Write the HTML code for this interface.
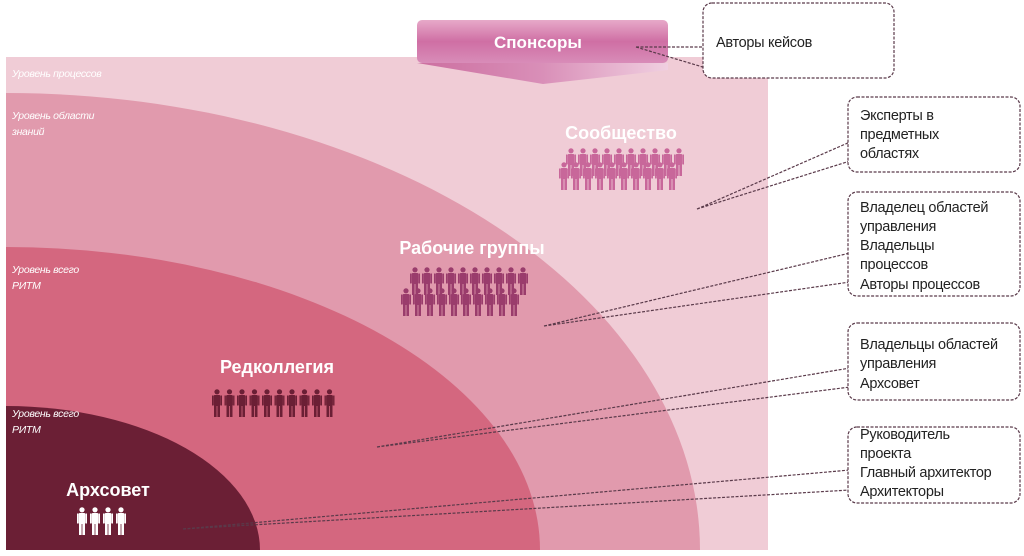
<!DOCTYPE html>
<html><head><meta charset="utf-8"><style>
html,body{margin:0;padding:0;background:#fff;}
svg{display:block}
text{font-family:"Liberation Sans","DejaVu Sans",sans-serif}
</style></head><body>
<svg width="1024" height="556" viewBox="0 0 1024 556" xmlns="http://www.w3.org/2000/svg">
<defs>
<symbol id="p" viewBox="0 0 10 28" overflow="visible">
<circle cx="5" cy="2.8" r="2.6"/>
<rect x="1.6" y="6" width="6.8" height="11" rx="1.2"/>
<rect x="0" y="6.5" width="1.4" height="10"/>
<rect x="8.6" y="6.5" width="1.4" height="10"/>
<rect x="2" y="16" width="2.6" height="12"/>
<rect x="5.4" y="16" width="2.6" height="12"/>
</symbol>
<linearGradient id="sg" x1="0" y1="0" x2="0" y2="1">
<stop offset="0" stop-color="#e7a9c9"/><stop offset="0.5" stop-color="#cf6fa4"/><stop offset="1" stop-color="#d88cb8"/>
</linearGradient>
<linearGradient id="ag" x1="0" y1="0" x2="1" y2="0">
<stop offset="0" stop-color="#cc6fa0"/><stop offset="0.5" stop-color="#d98fb8"/><stop offset="1" stop-color="#f0cfe0"/>
</linearGradient>
</defs>
<rect x="6" y="57" width="762" height="493" fill="#f0ccd6"/>
<path d="M6 93 A694 457 0 0 1 700 550 L6 550 Z" fill="#e19aad"/>
<path d="M6 247 A534 303 0 0 1 540 550 L6 550 Z" fill="#d4677f"/>
<path d="M6 406 A254 144 0 0 1 260 550 L6 550 Z" fill="#6b1f35"/>
<polygon points="417,63 668,63 668,70 543,84 417,63" fill="url(#ag)"/>
<rect x="417" y="20" width="251" height="43" rx="5" fill="url(#sg)"/>
<text x="538" y="48" font-size="17" font-weight="bold" fill="#fff" text-anchor="middle">Спонсоры</text>
<g font-size="10.5" font-style="italic" fill="#fff" letter-spacing="-0.3">
<text x="12" y="77">Уровень процессов</text>
<text x="12" y="119">Уровень области</text><text x="12" y="135">знаний</text>
<text x="12" y="273">Уровень всего</text><text x="12" y="289">РИТМ</text>
<text x="12" y="417">Уровень всего</text><text x="12" y="433">РИТМ</text>
</g>
<g font-size="18" font-weight="bold" fill="#fff" text-anchor="middle">
<text x="621" y="139">Сообщество</text>
<text x="472" y="254">Рабочие группы</text>
<text x="277" y="373">Редколлегия</text>
<text x="108" y="496">Архсовет</text>
</g>
<g fill="#c8679a">
<use href="#p" x="566" y="148" width="10" height="28"/><use href="#p" x="578" y="148" width="10" height="28"/><use href="#p" x="590" y="148" width="10" height="28"/><use href="#p" x="602" y="148" width="10" height="28"/><use href="#p" x="614" y="148" width="10" height="28"/><use href="#p" x="626" y="148" width="10" height="28"/><use href="#p" x="638" y="148" width="10" height="28"/><use href="#p" x="650" y="148" width="10" height="28"/><use href="#p" x="662" y="148" width="10" height="28"/><use href="#p" x="674" y="148" width="10" height="28"/>
<use href="#p" x="559" y="162" width="10" height="28"/><use href="#p" x="571" y="162" width="10" height="28"/><use href="#p" x="583" y="162" width="10" height="28"/><use href="#p" x="595" y="162" width="10" height="28"/><use href="#p" x="607" y="162" width="10" height="28"/><use href="#p" x="619" y="162" width="10" height="28"/><use href="#p" x="631" y="162" width="10" height="28"/><use href="#p" x="643" y="162" width="10" height="28"/><use href="#p" x="655" y="162" width="10" height="28"/><use href="#p" x="667" y="162" width="10" height="28"/>
</g>
<g fill="#9a3c6c">
<use href="#p" x="410" y="267" width="10" height="28"/><use href="#p" x="422" y="267" width="10" height="28"/><use href="#p" x="434" y="267" width="10" height="28"/><use href="#p" x="446" y="267" width="10" height="28"/><use href="#p" x="458" y="267" width="10" height="28"/><use href="#p" x="470" y="267" width="10" height="28"/><use href="#p" x="482" y="267" width="10" height="28"/><use href="#p" x="494" y="267" width="10" height="28"/><use href="#p" x="506" y="267" width="10" height="28"/><use href="#p" x="518" y="267" width="10" height="28"/>
<use href="#p" x="401" y="288" width="10" height="28"/><use href="#p" x="413" y="288" width="10" height="28"/><use href="#p" x="425" y="288" width="10" height="28"/><use href="#p" x="437" y="288" width="10" height="28"/><use href="#p" x="449" y="288" width="10" height="28"/><use href="#p" x="461" y="288" width="10" height="28"/><use href="#p" x="473" y="288" width="10" height="28"/><use href="#p" x="485" y="288" width="10" height="28"/><use href="#p" x="497" y="288" width="10" height="28"/><use href="#p" x="509" y="288" width="10" height="28"/>
</g>
<g fill="#6b1f35">
<use href="#p" x="212" y="389" width="10" height="28"/><use href="#p" x="224.5" y="389" width="10" height="28"/><use href="#p" x="237" y="389" width="10" height="28"/><use href="#p" x="249.5" y="389" width="10" height="28"/><use href="#p" x="262" y="389" width="10" height="28"/><use href="#p" x="274.5" y="389" width="10" height="28"/><use href="#p" x="287" y="389" width="10" height="28"/><use href="#p" x="299.5" y="389" width="10" height="28"/><use href="#p" x="312" y="389" width="10" height="28"/><use href="#p" x="324.5" y="389" width="10" height="28"/>
</g>
<g fill="#fff">
<use href="#p" x="77" y="507" width="10" height="28"/><use href="#p" x="90" y="507" width="10" height="28"/><use href="#p" x="103" y="507" width="10" height="28"/><use href="#p" x="116" y="507" width="10" height="28"/>
</g>
<g fill="none" stroke="#5a3a4a" stroke-width="1.2" stroke-dasharray="3,1.5">
<path d="M636 47 L706 47 M636 47 L706 68"/>
<path d="M697 209 L850 142 M697 209 L850 161"/>
<path d="M544 326 L850 253 M544 326 L850 282"/>
<path d="M377 447 L850 368 M377 447 L850 387"/>
<path d="M183 529 L850 470 M183 529 L850 490"/>
<rect x="703" y="3" width="191" height="75" rx="9" fill="#fff"/>
<rect x="848" y="97" width="172" height="75" rx="9" fill="#fff"/>
<rect x="848" y="192" width="172" height="104" rx="9" fill="#fff"/>
<rect x="848" y="323" width="172" height="77" rx="9" fill="#fff"/>
<rect x="848" y="427" width="172" height="76" rx="9" fill="#fff"/>
</g>
<g font-size="14.5" fill="#222" letter-spacing="-0.3">
<text x="716" y="47">Авторы кейсов</text>
<text x="860" y="120">Эксперты в</text><text x="860" y="139">предметных</text><text x="860" y="158">областях</text>
<text x="860" y="212">Владелец областей</text><text x="860" y="231">управления</text><text x="860" y="250">Владельцы</text><text x="860" y="269">процессов</text><text x="860" y="289">Авторы процессов</text>
<text x="860" y="349">Владельцы областей</text><text x="860" y="368">управления</text><text x="860" y="388">Архсовет</text>
<text x="860" y="439">Руководитель</text><text x="860" y="458">проекта</text><text x="860" y="477">Главный архитектор</text><text x="860" y="496">Архитекторы</text>
</g>
</svg>
</body></html>
